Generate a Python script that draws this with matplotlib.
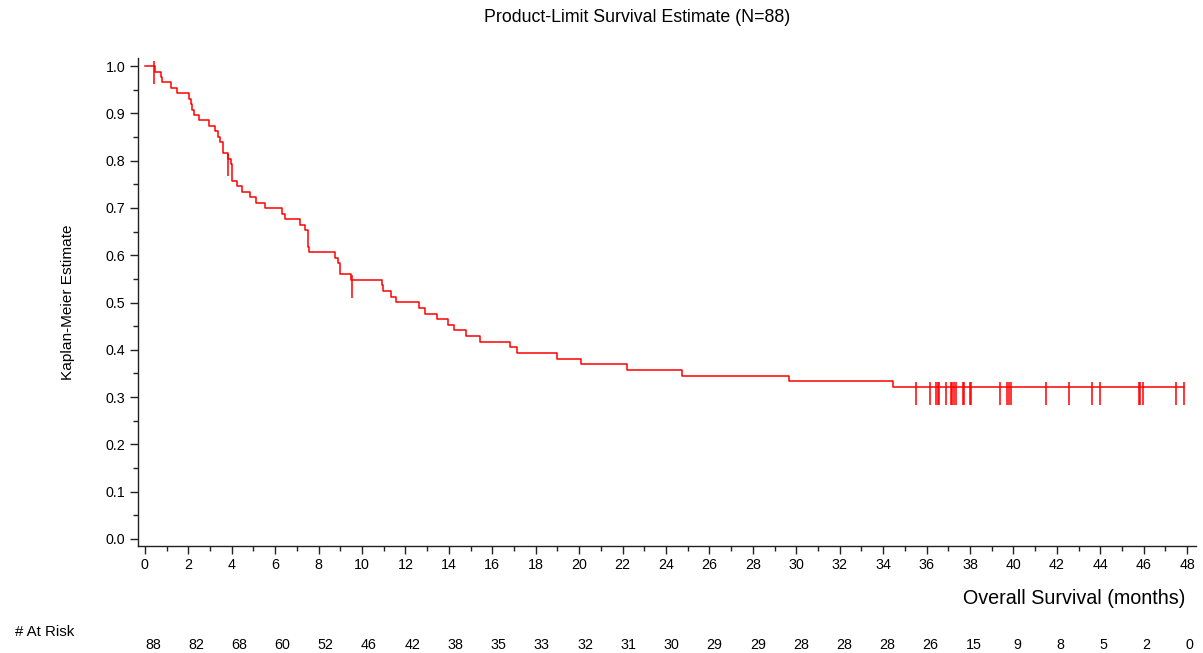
import matplotlib
matplotlib.use("Agg")
import matplotlib.pyplot as plt
from matplotlib.ticker import MultipleLocator

plt.rcParams['font.family'] = ['Liberation Sans', 'DejaVu Sans']

# Step (event) times and survival estimate after each step
step_times = [0, 0.45, 0.72, 0.78, 1.18, 1.46, 2.04, 2.10, 2.15, 2.26, 2.49, 2.95,
              3.23, 3.38, 3.46, 3.58, 3.81, 3.95, 4.00, 4.25, 4.45, 4.84, 5.12, 5.53,
              6.30, 6.45, 7.12, 7.37, 7.50, 7.57, 8.76, 8.87, 8.99, 9.48, 10.92, 10.98,
              11.32, 11.58, 12.60, 12.92, 13.44, 13.98, 14.25, 14.77, 15.43, 16.82,
              17.13, 19.00, 20.07, 22.19, 24.75, 29.66, 34.45]
survival = [1.0, 0.9885, 0.9770, 0.9655, 0.9540, 0.9425, 0.9310, 0.9195, 0.9080,
            0.8965, 0.8851, 0.8736, 0.8621, 0.8506, 0.8391, 0.8161, 0.8046, 0.7929,
            0.7580, 0.7463, 0.7347, 0.7230, 0.7114, 0.6997, 0.6880, 0.6764, 0.6647,
            0.6531, 0.6181, 0.6064, 0.5947, 0.5831, 0.5598, 0.5481, 0.5362, 0.5243,
            0.5124, 0.5005, 0.4886, 0.4767, 0.4648, 0.4528, 0.4409, 0.4290, 0.4171,
            0.4052, 0.3933, 0.3813, 0.3694, 0.3575, 0.3456, 0.3337, 0.3218]

# Censored observations
censor_times = [0.41, 3.84, 9.52, 35.53, 36.14, 36.45, 36.51, 36.58, 36.91, 37.13,
                37.19, 37.25, 37.34, 37.68, 37.74, 38.00, 38.05, 39.37, 39.71, 39.78,
                39.89, 41.51, 42.58, 43.61, 43.97, 45.77, 45.85, 45.97, 47.50, 47.88]
censor_surv = [1.0, 0.8046, 0.5481] + [0.3218] * 27

# Number at risk table
risk_times = list(range(0, 49, 2))
at_risk = [88, 82, 68, 60, 52, 46, 42, 38, 35, 33, 32, 31, 30, 29, 29, 28, 28, 28,
           26, 15, 9, 8, 5, 2, 0]

fig = plt.figure(figsize=(12.03, 6.53), dpi=100)
ax = fig.add_axes([0.1147, 0.1639, 0.8793, 0.7471])

red = '#FF0000'
xs = step_times + [censor_times[-1]]
ys = survival + [survival[-1]]
ax.step(xs, ys, where='post', color=red, lw=1.1)
ax.vlines(censor_times, [s - 0.038 for s in censor_surv],
          [s + 0.010 for s in censor_surv], color=red, lw=1.1)

ax.set_xlim(-0.32, 48.4)
ax.set_ylim(-0.015, 1.017)
ax.xaxis.set_major_locator(MultipleLocator(2))
ax.xaxis.set_minor_locator(MultipleLocator(1))
ax.yaxis.set_major_locator(MultipleLocator(0.1))
ax.yaxis.set_minor_locator(MultipleLocator(0.05))
ax.yaxis.set_major_formatter(plt.FuncFormatter(lambda v, p: f"{v:.1f}"))

for s in ['top', 'right']:
    ax.spines[s].set_visible(False)
for s in ['left', 'bottom']:
    ax.spines[s].set_color('#222222')
    ax.spines[s].set_linewidth(1.0)
ax.tick_params(which='major', direction='out', length=6, width=1.0,
               color='#222222', labelsize=10.3, pad=3)
ax.tick_params(which='minor', direction='out', length=3.5, width=1.0, color='#222222')

fig.text(637 / 1203, 1 - 18 / 653, 'Product-Limit Survival Estimate (N=88)',
         ha='center', va='center', fontsize=12.8)
ax.set_ylabel('Kaplan-Meier Estimate', fontsize=11.1, labelpad=22)
fig.text(0.985, 1 - 599 / 653, 'Overall Survival (months)', ha='right', va='center',
         fontsize=14.2)

fig.text(15 / 1203, 1 - 632 / 653, '# At Risk', ha='left', va='center', fontsize=10.8)
for t, n in zip(risk_times, at_risk):
    ax.text(t * 0.995 + 0.37, -0.224, str(n), ha='center', va='center', fontsize=10.3,
            transform=ax.transData, clip_on=False)

fig.savefig('out.png', dpi=100)
